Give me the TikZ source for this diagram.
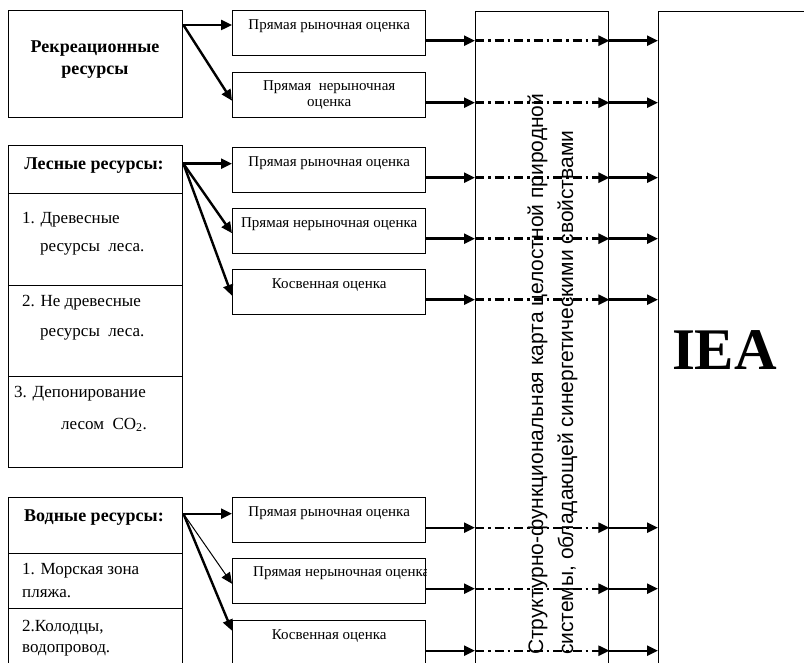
\documentclass[tikz,border=0pt]{standalone}
\usepackage{fontspec}
\setmainfont{Liberation Serif}
\setsansfont{Liberation Sans}
\usetikzlibrary{arrows.meta}
\tikzset{
  box/.style={draw,line width=1.4pt,inner sep=0pt,anchor=north west},
  otsenka/.style={box,minimum width=193pt,minimum height=45pt,font=\fontsize{15}{16}\selectfont},
  toptext/.style={text height=10pt,text depth=18pt},
  cell/.style={box,minimum width=174pt},
  head/.style={anchor=base,inner sep=0pt,font=\fontsize{18}{22}\selectfont\bfseries},
  item/.style={anchor=base west,inner sep=0pt,font=\fontsize{17}{20}\selectfont},
  kart/.style={rotate=90,anchor=base west,inner sep=0pt,font=\sffamily\fontsize{21}{30}\selectfont},
  arr/.style={line width=2.4pt,-{Triangle[length=11pt,width=10pt]}},
  dashdot/.style={dash pattern=on 9pt off 4pt on 2.5pt off 4pt}
}

\begin{document}
\begin{tikzpicture}[x=1pt,y=-1pt]
    \useasboundingbox (0,0) rectangle (804,663);
    \clip (0,0) rectangle (804,663);

    % Resources
    \node[cell,minimum height=107pt] (rekr) at (8,10) {};
    \node[head] (rekrt1) at (95,53) {Рекреационные};
    \node[head] (rekrt2) at (95,75) {ресурсы};

    \node[cell,minimum height=48pt] (les) at (8,145) {};
    \node[cell,minimum height=92pt] (les1) at (8,193) {};
    \node[cell,minimum height=91pt] (les2) at (8,285) {};
    \node[cell,minimum height=91pt] (les3) at (8,376) {};
    \node[head] (lest) at (94,170) {Лесные ресурсы:};
    \node[item] (les1a) at (22,224) {1. Древесные};
    \node[item] (les1b) at (40,252) {ресурсы\ \ леса.};
    \node[item] (les2a) at (22,307) {2. Не древесные};
    \node[item] (les2b) at (40,337) {ресурсы\ \ леса.};
    \node[item] (les3a) at (14,397) {3. Депонирование};
    \node[item] (les3b) at (61,429) {лесом\ \ CO\textsubscript{2}.};

    \node[cell,minimum height=56pt] (vod) at (8,497) {};
    \node[cell,minimum height=55pt] (vod1) at (8,553) {};
    \node[cell,minimum height=80pt] (vod2) at (8,608) {};
    \node[head] (vodt) at (94,521) {Водные ресурсы:};
    \node[item] (vod1a) at (22,574) {1. Морская зона};
    \node[item] (vod1b) at (22,597) {пляжа.};
    \node[item] (vod2a) at (22,631) {2.Колодцы,};
    \node[item] (vod2b) at (22,652) {водопровод.};

    % Valuations
    \node[otsenka,toptext] (r1) at (232,10) {Прямая рыночная оценка};
    \node[otsenka,align=center] (r2) at (232,72) {Прямая\ \ нерыночная\\оценка};
    \node[otsenka,toptext] (l1) at (232,147) {Прямая рыночная оценка};
    \node[otsenka,toptext] (l2) at (232,208) {Прямая нерыночная оценка};
    \node[otsenka,toptext] (l3) at (232,269) {Косвенная оценка};
    \node[otsenka,toptext] (v1) at (232,497) {Прямая рыночная оценка};
    \node[otsenka] (v2) at (232,558) {};
    \node[otsenka,toptext] (v3) at (232,620) {Косвенная оценка};
    \begin{scope}
        \clip (v2.south west) rectangle (v2.north east);
        \node[anchor=base west,inner sep=0pt,font=\fontsize{15}{16}\selectfont] (v2t) at (253,576.5) {Прямая нерыночная оценка};
    \end{scope}

    % Map and IEA
    \node[box,minimum width=133pt,minimum height=700pt] (karta) at (475,11) {};
    \node[box,minimum width=200pt,minimum height=700pt] (iea) at (658,11) {};
    \node[kart] (kart1) at (543,655) {Структурно-функциональная карта целостной природной};
    \node[kart] (kart2) at (573,655) {системы, обладающей синергетическими свойствами};
    \node[anchor=base,inner sep=0pt,font=\fontsize{59}{60}\selectfont\bfseries] (ieat) at (724.5,370) {IEA};

    % Arrows to valuations
    \coordinate (rs) at ([yshift=-15pt]rekr.north east);
    \draw[arr] (rs) -- (rs -| r1.west);
    \draw[arr] (rs) -- ([yshift=-5.5pt]r2.west);
    \coordinate (ls) at ([yshift=6pt]les.east);
    \draw[arr] (ls) -- (ls -| l1.west);
    \draw[arr] (ls) -- ([yshift=-2pt]l2.west);
    \draw[arr] (ls) -- ([yshift=-3.5pt]l3.west);
    \coordinate (vs) at ([yshift=12pt]vod.east);
    \draw[arr] (vs) -- (vs -| v1.west);
    \draw[arr,line width=1pt] (vs) -- ([yshift=-2.5pt]v2.west);
    \draw[arr] (vs) -- ([yshift=12.5pt]v3.west);

    % Arrows through the map
    \foreach \b in {r1,r2,l1,l2,l3,v1,v2,v3} {
        \coordinate (\b o) at ([yshift=-7.5pt]\b.east);
        \draw[arr] (\b o) -- (\b o -| karta.west);
        \draw[arr,dashdot] (\b o -| karta.west) -- (\b o -| karta.east);
        \draw[arr] (\b o -| karta.east) -- (\b o -| iea.west);
    }
\end{tikzpicture}
\end{document}
